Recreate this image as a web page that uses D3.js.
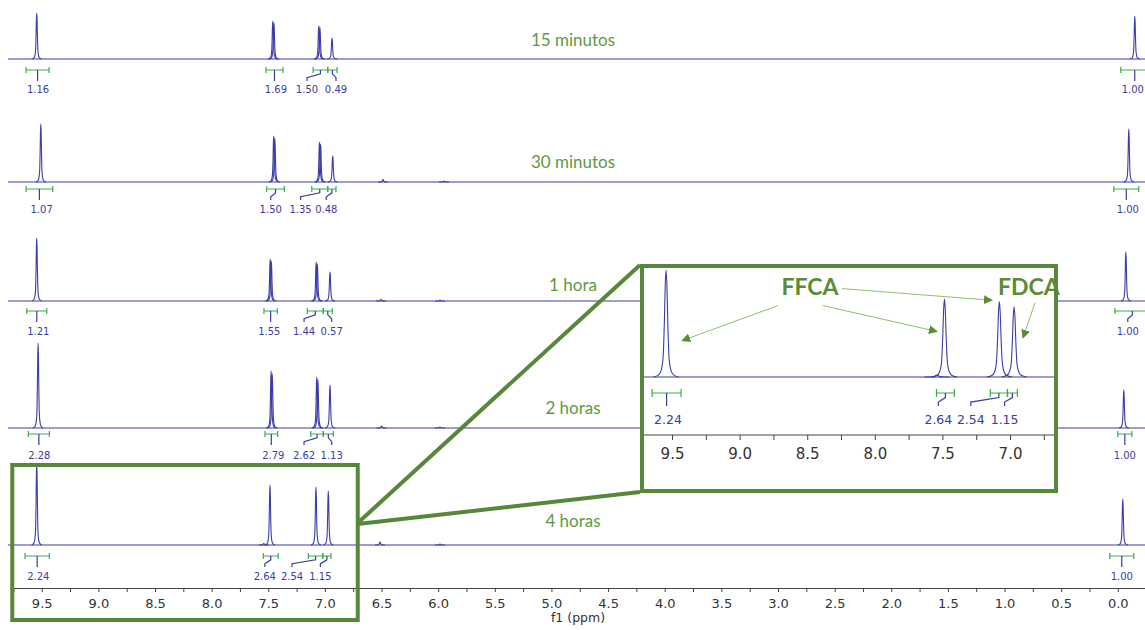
<!DOCTYPE html>
<html lang="es">
<head>
<meta charset="UTF-8">
<title>RMN 1H - seguimiento de la oxidación</title>
<script src="https://d3js.org/d3.v7.min.js"></script>
<style>
    body{ margin:0; background:#fff; }
    .axis text{ font-family:"DejaVu Sans", Verdana, sans-serif; fill:#333; }
    .axis path, .axis line{ stroke:#444; }
    .row-label{ font-family:Lato, "Open Sans", sans-serif; font-size:17px; fill:#5e9a42; text-anchor:middle; }
    .int-label{ font-family:"DejaVu Sans", sans-serif; fill:#3b3ba6; text-anchor:middle; }
    .trace{ fill:none; stroke:#3c3cab; stroke-width:1.1; }
    .bracket{ stroke:#3dab4a; stroke-width:1.2; fill:none; }
    .lead{ stroke:#3b3ba6; stroke-width:1.2; fill:none; }
    .tag{ font-family:Lato, "Open Sans", sans-serif; font-weight:bold; font-size:23px; fill:#5b8c35; text-anchor:middle; }
</style>
</head>
<body>
<svg width="1145" height="630"></svg>
<script>
// ---- data ----
const rowLabels = ["15 minutos", "30 minutos", "1 hora", "2 horas", "4 horas"];

// chemical shifts (ppm) of the main signals per spectrum
const peakPpm = [
    [9.544, 7.455, 7.049, 6.937, -0.150],
    [9.508, 7.447, 7.043, 6.931, -0.097],
    [9.544, 7.478, 7.072, 6.955, -0.071],
    [9.532, 7.470, 7.067, 6.955, -0.053],
    [9.544, 7.485, 7.079, 6.970, -0.044]
];
// intensities (a.u.)
const peakHeight = [
    [46, 38, 33, 21, 43],
    [58, 46, 40, 26, 53],
    [63, 42, 39, 29, 49],
    [85, 57, 51, 43, 38],
    [82, 60, 58, 54, 46]
];
// 1 = resolved doublet at the top
const peakDoublet = [
    [0, 1, 1, 0, 0],
    [0, 1, 1, 0, 0],
    [0, 1, 1, 0, 0],
    [0, 1, 1, 0, 0],
    [0, 0, 0, 0, 0]
];
// small signals [ppm, intensity]
const minorPeaks = [
    [],
    [[6.487, 2.5], [5.949, 1]],
    [[6.505, 1.5], [5.984, 1]],
    [[6.500, 2], [5.984, 1]],
    [[6.514, 3], [5.984, 1], [7.540, 1.5]]
];

// integrals: [from ppm, to ppm, label ppm]
const integralRanges = [
    [[9.638, 9.435, 9.532], [7.520, 7.370, 7.432], [7.104, 6.975, 7.158], [6.975, 6.893, 6.902], [-0.026, -0.273, -0.132]],
    [[9.638, 9.403, 9.500], [7.514, 7.358, 7.478], [7.116, 6.975, 7.215], [6.975, 6.902, 6.988], [0.035, -0.185, -0.088]],
    [[9.632, 9.455, 9.530], [7.538, 7.420, 7.491], [7.155, 7.014, 7.184], [7.014, 6.935, 6.940], [0.026, -0.282, -0.088]],
    [[9.618, 9.432, 9.521], [7.529, 7.417, 7.455], [7.125, 7.014, 7.184], [7.014, 6.926, 6.940], [0.000, -0.124, -0.062]],
    [[9.647, 9.433, 9.530], [7.544, 7.412, 7.530], [7.146, 7.019, 7.290], [7.019, 6.946, 7.040], [0.071, -0.141, -0.035]]
];
const integralValues = [
    ["1.16", "1.69", "1.50", "0.49", "1.00"],
    ["1.07", "1.50", "1.35", "0.48", "1.00"],
    ["1.21", "1.55", "1.44", "0.57", "1.00"],
    ["2.28", "2.79", "2.62", "1.13", "1.00"],
    ["2.24", "2.64", "2.54", "1.15", "1.00"]
];

// zoomed region and annotations of the inset
const zoomWindow = [9.76, 6.71];
const tags = [
    {text: "FFCA", ppm: 8.48, int: 68, arrows: [[9.426, 28, -32, 17], [7.540, 35, 13, 17], [7.133, 59, 32, 0]]},
    {text: "FDCA", ppm: 6.86, int: 68, arrows: [[6.904, 30, 6, 14]]}
];

// ---- layout ----
const svg = d3.select("svg");
const green = "#56873a";
const rowBase = [59, 182, 301, 428, 545];
const bracketDy = [11, 7, 10, 6, 11];
const labelDy = [31, 28, 31, 28, 32];
const rowLabelY = [42, 164, 287, 410, 523];

const x = d3.scaleLinear().domain([9.78, -0.24]).range([10, 1145]);

// line-shape template (px offset, fraction of height)
const shape = [[-5,0],[-3,.02],[-2,.06],[-1.2,.18],[-.7,.5],[-.35,.85],[0,1],[.35,.85],[.7,.5],[1.2,.18],[2,.06],[3,.02],[5,0]];
const peakLine = d3.line().curve(d3.curveMonotoneX);

function drawTrace(g, xs, y, peaks, k, x0, x1) {
    g.append("line").attr("class", "trace")
        .attr("x1", x0).attr("x2", x1).attr("y1", y(0)).attr("y2", y(0));
    peaks.forEach(p => {
        let cx = xs(p.ppm);
        let subs = p.doublet ? [[-0.55, 1], [0.55, 0.95]] : [[0, 1]];
        subs.forEach(([off, f]) => {
            let h = (y(0) - y(p.h)) * f;
            g.append("path").attr("class", "trace")
                .attr("d", peakLine(shape.map(([dx, s]) => [cx + off + dx * k, y(0) - h * s])));
        });
    });
}

function drawIntegrals(g, xs, yb, yl, ranges, values, cap, drop, fontSize) {
    ranges.forEach((r, i) => {
        let xa = xs(r[0]), xb = xs(r[1]), cx = (xa + xb) / 2, lx = xs(r[2]);
        g.append("path").attr("class", "bracket")
            .attr("d", `M${xa},${yb}H${xb}M${xa},${yb - cap}V${yb + cap}M${xb},${yb - cap}V${yb + cap}`);
        let d = Math.abs(lx - cx) < 2.5
            ? `M${cx},${yb}V${yb + drop}`
            : `M${cx},${yb}V${yb + drop * 0.35}L${lx},${yb + drop * 0.7}V${yb + drop}`;
        g.append("path").attr("class", "lead").attr("d", d);
        g.append("text").attr("class", "int-label")
            .attr("x", lx).attr("y", yl)
            .attr("dominant-baseline", "middle")
            .style("font-size", fontSize + "px")
            .text(values[i]);
    });
}

function rowPeaks(r) {
    let list = peakPpm[r].map((p, i) => ({ppm: p, h: peakHeight[r][i], doublet: peakDoublet[r][i]}));
    minorPeaks[r].forEach(m => list.push({ppm: m[0], h: m[1], doublet: 0}));
    return list;
}

// ---- stacked spectra ----
rowLabels.forEach((label, r) => {
    let g = svg.append("g");
    let y = d3.scaleLinear().domain([0, 100]).range([rowBase[r], rowBase[r] - 100]);
    drawTrace(g, x, y, rowPeaks(r), 1, 8, 1145);
    drawIntegrals(g, x, rowBase[r] + bracketDy[r], rowBase[r] + labelDy[r],
        integralRanges[r], integralValues[r], 3, 11, 10);
    g.append("text").attr("class", "row-label")
        .attr("x", 573).attr("y", rowLabelY[r])
        .attr("dominant-baseline", "middle")
        .text(label);
});

// ---- main axis ----
const quarterTicks = d3.range(-1, 40).map(i => i / 4);
const halfLabel = d => Math.abs(d * 2 - Math.round(d * 2)) < 1e-6 ? d.toFixed(1) : "";
svg.append("g").attr("class", "axis")
    .attr("transform", "translate(0,588)")
    .call(d3.axisBottom(x).tickValues(quarterTicks).tickFormat(halfLabel)
        .tickSize(4).tickSizeOuter(0).tickPadding(7))
    .call(g => g.selectAll("text").style("font-size", "13px"));
svg.append("text")
    .attr("x", 578).attr("y", 622)
    .attr("text-anchor", "middle")
    .style("font-family", "DejaVu Sans, sans-serif").style("font-size", "12.5px").style("fill", "#333")
    .text("f1 (ppm)");

// ---- zoom box on the 4 horas spectrum ----
const bx0 = x(zoomWindow[0]), bx1 = x(zoomWindow[1]);
svg.append("rect")
    .attr("x", bx0).attr("y", 465).attr("width", bx1 - bx0).attr("height", 155)
    .attr("fill", "none").attr("stroke", green).attr("stroke-width", 4);

// ---- inset ----
const inset = {x0: 642, x1: 1056, y0: 266, y1: 491, base: 377, axisY: 435};
const xi = d3.scaleLinear().domain([9.722, 6.66]).range([inset.x0, inset.x1]);
const yi = d3.scaleLinear().domain([0, 100]).range([inset.base, inset.base - 130]);

// connector lines from the box to the inset
svg.append("line").attr("x1", bx1).attr("y1", 523).attr("x2", 640).attr("y2", 265)
    .attr("stroke", green).attr("stroke-width", 4);
svg.append("line").attr("x1", bx1).attr("y1", 524).attr("x2", 640).attr("y2", 492)
    .attr("stroke", green).attr("stroke-width", 4);

svg.append("rect")
    .attr("x", inset.x0).attr("y", inset.y0)
    .attr("width", inset.x1 - inset.x0).attr("height", inset.y1 - inset.y0)
    .attr("fill", "#fff");

svg.append("clipPath").attr("id", "insetClip")
    .append("rect").attr("x", inset.x0).attr("y", inset.y0)
    .attr("width", inset.x1 - inset.x0).attr("height", inset.y1 - inset.y0);

const gi = svg.append("g").attr("clip-path", "url(#insetClip)");
drawTrace(gi, xi, yi, rowPeaks(4).filter(p => p.ppm > 6.6), 2.5, inset.x0, inset.x1);
drawIntegrals(gi, xi, inset.base + 16, inset.base + 43,
    integralRanges[4].slice(0, 4), integralValues[4], 4, 13, 12.5);

gi.append("g").attr("class", "axis")
    .attr("transform", `translate(0,${inset.axisY})`)
    .call(d3.axisBottom(xi).tickValues(d3.range(26, 40).map(i => i / 4)).tickFormat(halfLabel)
        .tickSize(5).tickSizeOuter(0).tickPadding(8))
    .call(g => g.selectAll("text").style("font-size", "15px"))
    .call(g => g.select(".domain").attr("d", `M${inset.x0},0H${inset.x1}`));

// annotations
svg.append("defs").append("marker")
    .attr("id", "arrow").attr("viewBox", "0 0 10 10")
    .attr("refX", 9).attr("refY", 5)
    .attr("markerWidth", 9).attr("markerHeight", 9)
    .attr("markerUnits", "userSpaceOnUse")
    .attr("orient", "auto")
    .append("path").attr("d", "M0,0L10,5L0,10z").attr("fill", "#5b8c35");

tags.forEach(t => {
    let tx = xi(t.ppm), ty = yi(t.int);
    t.arrows.forEach(a => {
        svg.append("line")
            .attr("x1", tx + a[2]).attr("y1", ty + a[3])
            .attr("x2", xi(a[0])).attr("y2", yi(a[1]))
            .attr("stroke", "#8fbf6e").attr("stroke-width", 1)
            .attr("marker-end", "url(#arrow)");
    });
    svg.append("text").attr("class", "tag")
        .attr("x", tx).attr("y", ty)
        .attr("dominant-baseline", "middle")
        .text(t.text);
});

svg.append("rect")
    .attr("x", inset.x0).attr("y", inset.y0)
    .attr("width", inset.x1 - inset.x0).attr("height", inset.y1 - inset.y0)
    .attr("fill", "none").attr("stroke", green).attr("stroke-width", 4);
</script>
</body>
</html>
